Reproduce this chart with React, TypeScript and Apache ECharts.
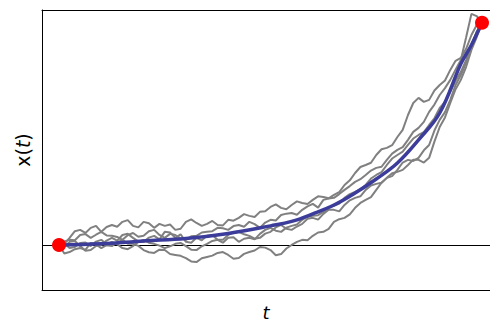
import React, { useEffect, useRef } from "react";
import * as echarts from "echarts";

// time grid (t from 0 to 1)
const T: number[] = [
  0, 0.0125, 0.025, 0.0375, 0.05, 0.0625, 0.075, 0.0875, 0.1, 0.1125, 0.125, 0.1375, 0.15, 0.1625,
  0.175, 0.1875, 0.2, 0.2125, 0.225, 0.2375, 0.25, 0.2625, 0.275, 0.2875, 0.3, 0.3125, 0.325,
  0.3375, 0.35, 0.3625, 0.375, 0.3875, 0.4, 0.4125, 0.425, 0.4375, 0.45, 0.4625, 0.475, 0.4875,
  0.5, 0.5125, 0.525, 0.5375, 0.55, 0.5625, 0.575, 0.5875, 0.6, 0.6125, 0.625, 0.6375, 0.65,
  0.6625, 0.675, 0.6875, 0.7, 0.7125, 0.725, 0.7375, 0.75, 0.7625, 0.775, 0.7875, 0.8, 0.8125,
  0.825, 0.8375, 0.85, 0.8625, 0.875, 0.8875, 0.9, 0.9125, 0.925, 0.9375, 0.95, 0.9625, 0.975,
  0.9875, 1,
];

// sample paths x(t)
const path1: number[] = [
  0, 0.5, 3.2, 6.2, 6.8, 5.4, 7.7, 8.6, 5.9, 8.1, 9, 8.2, 10.4, 11.2, 8.6, 7.9, 10.4, 9.8, 7.7,
  9.5, 8.6, 9.2, 6.8, 7.3, 10.4, 11.5, 9.9, 8.6, 9.5, 10.8, 9, 8.8, 11.3, 10.9, 12.2, 13.9, 13.1,
  12.6, 14.9, 15.2, 17.1, 18.3, 16.7, 16.1, 18, 19.6, 18.9, 18.4, 20.3, 21.9, 21.6, 21, 22.5, 23.8,
  27, 29.1, 32.4, 35.1, 36, 37, 40.5, 43.1, 43.7, 44.9, 48.6, 51.8, 58.5, 63.9, 66.2, 64.4, 65.3,
  69.5, 72, 74, 78.8, 82.9, 84.2, 88.3, 94.5, 99, 100,
];
const path2: number[] = [
  0, -3.8, -3.2, -1.9, -1.4, -2.2, 0.9, 0.2, -1.4, -0.1, -0.5, 1.1, 2.3, 0.6, 0.5, -0.4, -2.3,
  -3.3, -3.6, -2.1, -2.3, -4.1, -4.5, -4.9, -5.9, -7.4, -7.7, -6.0, -5.4, -4.8, -3.6, -3.2, -4.5,
  -6.2, -5.9, -4.0, -3.2, -2.5, -0.9, -1.2, -2.3, -4.6, -4.1, -1.6, 0, 1.4, 2.3, 2.1, 4.1, 5.6,
  5.9, 7.2, 10.4, 11.6, 12.2, 13.8, 16.7, 18.9, 20.3, 21.5, 24.8, 28.0, 30.2, 31.0, 33.8, 37.1,
  38.3, 37.8, 39.2, 42.6, 45, 51.5, 56.3, 59.8, 65.3, 72.0, 76.5, 82.1, 90, 95.8, 100,
];
const path3: number[] = [
  0, 1.6, 2.3, 2.1, 4.5, 4.9, 3.2, 4.6, 5.9, 4.3, 4.1, 3.6, 2.3, 4.4, 5.4, 3.7, 4.1, 6.2, 6.8, 4.5,
  3.2, 5.0, 4.5, 2.9, 2.3, 3.9, 4.1, 5.6, 5.9, 6.2, 7.7, 7.5, 6.8, 8.5, 9, 8.2, 10.4, 9.4, 7.7,
  10.1, 11.3, 11.0, 13.5, 14.1, 14.4, 13.6, 15.8, 17.4, 18.5, 16.8, 20.3, 20.9, 21.2, 22.9, 24.8,
  26.5, 28.4, 29.6, 31.5, 33.5, 34.7, 35.2, 38.3, 41.1, 42.8, 44.0, 47.3, 50.9, 52.7, 55.4, 59.9,
  63.2, 67.5, 70.6, 74.3, 78.9, 83.3, 93.5, 104, 103, 100,
];
const path4: number[] = [
  0, 0.8, -1.4, -0.9, 0.9, 1.1, -0.5, 1.5, 2.3, 0.2, 1.4, 0.3, -1.4, -1.9, -0.5, 1.4, 2.3, 1.0,
  0.5, -0.3, -1.4, -0.6, 0.5, 0.9, -0.5, -2.1, -2.3, -0.6, 0.5, 1.8, 2.3, 1.0, 3.2, 3.5, 1.4, 2.8,
  3.2, 2.5, 5, 6.8, 7.7, 6.4, 5.9, 7.8, 8.6, 9.2, 11.3, 12.8, 13.1, 13.4, 14.9, 16.9, 17.6, 18.6,
  21.2, 22.9, 23.9, 25.0, 27, 29.9, 31.5, 32.8, 36, 38.9, 40.5, 42.0, 45, 47.9, 49.5, 50.8, 54,
  57.0, 61.7, 64.4, 68.9, 73.9, 77.9, 83.2, 90, 96.0, 100,
];
const path5: number[] = [
  0, -0.9, 1.4, 1.8, -0.5, -2.6, -2.3, -0.5, 0, 2.0, 3.2, 1.9, 4.5, 5.0, 3.2, 1.5, 1.4, 3.3, 4.1,
  2.5, 5.9, 5.6, 3.2, 4.8, 1.4, 1.0, 3.2, 2.1, 4.1, 4.5, 2.3, 2.4, 4.5, 5.6, 5.9, 4.8, 4.1, 2.8,
  3.2, 5.1, 5.9, 7.9, 9, 7.3, 6.8, 8.3, 9.5, 11.8, 12.2, 11.4, 14, 15.9, 15.8, 15.1, 18, 20.1,
  21.2, 21.9, 24.8, 26.8, 27.5, 28.0, 30.2, 32.3, 32.9, 33.8, 36, 38.4, 38.3, 37.1, 39.2, 46.5,
  53.1, 57.4, 63.9, 70.1, 74.3, 80.2, 87.8, 93.6, 100,
];
const paths: number[][] = [path1, path2, path3, path4, path5];

// mean curve
const meanT: number[] = [0, 0.1, 0.2, 0.3, 0.4, 0.5, 0.55, 0.6, 0.65, 0.7, 0.75, 0.8, 0.85, 0.9, 0.95, 0.975, 1];
const meanX: number[] = [0, 0.5, 1.8, 2.9, 5.2, 8.6, 10.6, 14, 18, 23.4, 29.7, 36.9, 47.3, 59.4, 81.5, 90, 100];

// endpoints
const endpoints: number[][] = [
  [0, 0],
  [1, 100],
];

const X_MIN = -0.0402;
const X_MAX = 1.0189;
const Y_MIN = -20.27;
const Y_MAX = 105.75;

export default function App() {
  const ref = useRef<HTMLDivElement>(null);

  useEffect(() => {
    if (!ref.current) return;
    const chart = echarts.init(ref.current, undefined, { renderer: "svg" });
    const series: any[] = paths.map((p, k) => ({
      type: "line",
      name: "path" + (k + 1),
      data: p.map((v, i) => [T[i], v]),
      showSymbol: false,
      symbol: "none",
      lineStyle: { color: "#808080", width: 2 },
      z: 2,
      silent: true,
    }));
    series.push({
      type: "line",
      name: "mean",
      data: meanT.map((t, i) => [t, meanX[i]]),
      smooth: 0.4,
      symbol: "none",
      lineStyle: { color: "#3c3c9a", width: 3.5 },
      z: 3,
      silent: true,
      markLine: {
        silent: true,
        symbol: "none",
        label: { show: false },
        lineStyle: { color: "#000", width: 1, type: "solid" },
        data: [{ yAxis: 0 }],
        z: 1,
      },
    });
    series.push({
      type: "scatter",
      name: "ends",
      data: endpoints,
      symbolSize: 14,
      itemStyle: { color: "#ff0000", opacity: 1 },
      z: 5,
      silent: true,
    });

    chart.setOption({
      animation: false,
      backgroundColor: "#ffffff",
      grid: { left: 42, right: 0, top: 10, bottom: 32, outerBoundsMode: "none", containLabel: false },
      xAxis: [
        {
          type: "value",
          min: X_MIN,
          max: X_MAX,
          position: "bottom",
          axisLine: { show: true, onZero: false, lineStyle: { color: "#000", width: 1 } },
          axisTick: { show: false },
          axisLabel: { show: false },
          splitLine: { show: false },
          name: "t",
          nameLocation: "middle",
          nameGap: 13,
          nameTextStyle: {
            fontFamily: "DejaVu Sans",
            fontSize: 18,
            fontStyle: "italic",
            color: "#000",
          },
        },
        {
          type: "value",
          min: X_MIN,
          max: X_MAX,
          position: "top",
          axisLine: { show: true, onZero: false, lineStyle: { color: "#000", width: 1 } },
          axisTick: { show: false },
          axisLabel: { show: false },
          splitLine: { show: false },
        },
      ],
      yAxis: {
        type: "value",
        min: Y_MIN,
        max: Y_MAX,
        axisLine: { show: true, onZero: false, lineStyle: { color: "#000", width: 1 } },
        axisTick: { show: false },
        axisLabel: { show: false },
        splitLine: { show: false },
        name: "x({i|t})",
        nameLocation: "middle",
        nameRotate: 90,
        nameGap: 10,
        nameTextStyle: {
          fontFamily: "DejaVu Sans",
          fontSize: 19,
          color: "#000",
          rich: {
            i: { fontFamily: "DejaVu Sans", fontSize: 19, fontStyle: "italic", color: "#000" },
          },
        },
      },
      series,
    });
    return () => chart.dispose();
  }, []);

  return (
    <div
      ref={ref}
      style={{ position: "fixed", left: 0, top: 0, width: 490, height: 322, background: "#fff" }}
    />
  );
}
